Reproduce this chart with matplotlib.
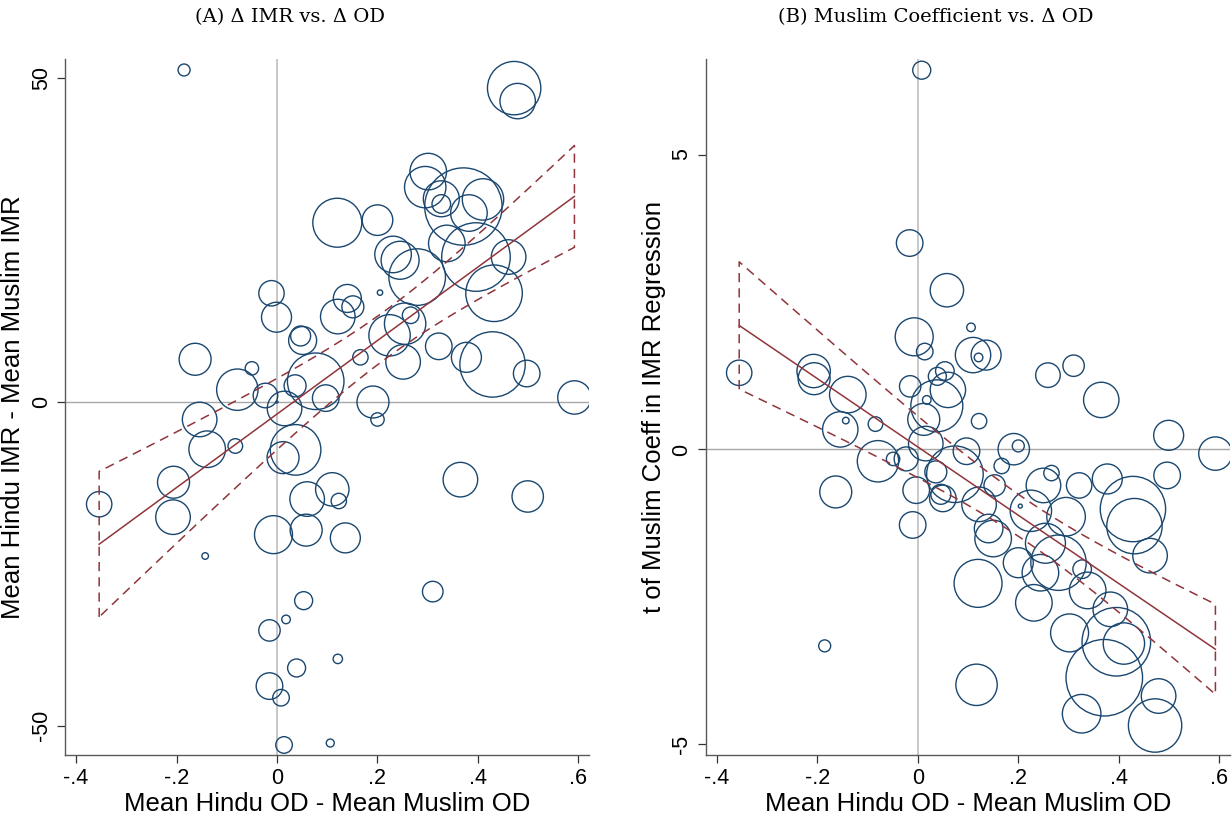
import numpy as np
import matplotlib
matplotlib.use("Agg")
import matplotlib.pyplot as plt

plt.rcParams['font.family'] = ['Liberation Sans', 'DejaVu Sans']
plt.rcParams['axes.unicode_minus'] = False

# panel A: x = mean Hindu OD - mean Muslim OD, y = mean Hindu IMR - mean Muslim IMR
# r = square root of the district weight (bubble size)
od_a = [-0.185, 0.472, 0.479, 0.301, 0.295, 0.327, 0.327, 0.371, 0.410, 0.382,
        0.120, 0.200, 0.338, 0.396, 0.231, 0.245, 0.279, 0.461, 0.432, -0.011,
        -0.001, 0.205, 0.140, 0.151, 0.121, 0.266, 0.255, 0.224, 0.251, 0.322,
        0.377, 0.429, 0.497, 0.592, 0.047, 0.051, -0.163, -0.050, -0.079, -0.023,
        0.036, 0.077, 0.097, 0.166, 0.191, 0.015, 0.000, 0.200, -0.154, -0.139,
        -0.083, 0.037, 0.012, -0.206, -0.354, -0.207, 0.110, 0.060, 0.123, 0.365,
        0.499, -0.007, 0.058, 0.136, -0.143, 0.310, 0.053, 0.018, -0.015, 0.121,
        0.039, -0.015, 0.008, 0.014, 0.106]
imr_a = [51.3, 48.5, 46.5, 35.6, 33.2, 31.4, 30.6, 30.2, 31.3, 29.2,
         27.7, 28.1, 24.5, 22.4, 22.8, 21.9, 19.3, 22.4, 16.8, 16.8,
         13.1, 16.9, 16.0, 14.7, 13.2, 13.4, 12.1, 10.3, 6.2, 8.6,
         6.9, 5.8, 4.4, 0.7, 10.2, 9.5, 6.6, 5.2, 1.9, 1.0,
         2.5, 3.2, 0.6, 6.9, 0.0, -1.0, 0.0, -2.7, -2.7, -7.3,
         -6.8, -7.4, -8.6, -12.4, -15.8, -17.8, -13.5, -15.0, -15.3, -12.0,
         -14.6, -20.5, -19.8, -21.0, -23.8, -29.3, -30.7, -33.6, -35.3, -39.7,
         -41.1, -43.9, -45.7, -53.0, -52.7]
r_a = [6, 26.7, 17.7, 18.3, 20.7, 18, 9.3, 38.7, 20.7, 18.3,
       24.5, 15.3, 18.3, 34.3, 18.3, 19, 28.3, 17.3, 28.3, 12.7,
       15, 2.7, 14, 11, 17.3, 8.3, 20.7, 20.7, 17.3, 13.3,
       15, 32.7, 13.3, 16.7, 10, 14, 16, 6.7, 20.7, 12.3,
       11, 28.3, 13.3, 7.7, 16, 17.3, 1, 6.7, 17.3, 18.3,
       7.3, 25.3, 16, 16, 12.7, 17.3, 16.7, 17.3, 7.7, 17.3,
       15.7, 19, 16, 15, 3.3, 10.3, 9, 4.3, 10.7, 4.7,
       9, 13.3, 8.3, 8.3, 4]

# panel B: y = t statistic of the Muslim coefficient in the IMR regression
od_b = [0.008, -0.016, 0.058, 0.106, -0.007, 0.014, 0.110, 0.136, 0.121, 0.310,
        0.259, 0.365, -0.355, -0.207, -0.206, -0.139, -0.015, 0.039, 0.054, 0.060,
        0.038, 0.018, 0.012, 0.122, -0.154, -0.143, -0.084, 0.016, -0.079, -0.049,
        -0.023, 0.097, 0.074, 0.036, 0.191, 0.200, 0.499, 0.592, 0.496, 0.167,
        0.266, 0.250, 0.321, 0.377, 0.428, 0.431, 0.462, -0.163, -0.003, 0.050,
        0.046, 0.122, 0.153, 0.204, 0.225, 0.295, -0.010, 0.141, 0.150, 0.254,
        0.280, 0.200, 0.244, 0.327, 0.120, 0.338, 0.231, 0.383, 0.302, 0.395,
        0.410, -0.185, 0.371, 0.479, 0.117, 0.326, 0.472]
t_b = [6.43, 3.50, 2.70, 2.07, 1.91, 1.66, 1.60, 1.60, 1.56, 1.42,
       1.26, 0.84, 1.30, 1.33, 1.20, 0.93, 1.07, 1.24, 1.33, 1.01,
       0.74, 0.84, 0.51, 0.48, 0.34, 0.49, 0.43, 0.10, -0.20, -0.16,
       -0.16, -0.03, -0.42, -0.38, 0.005, 0.06, 0.24, -0.07, -0.44, -0.28,
       -0.40, -0.61, -0.61, -0.50, -1.01, -1.30, -1.80, -0.72, -0.69, -0.83,
       -0.76, -0.93, -0.61, -0.96, -1.04, -1.14, -1.28, -1.34, -1.51, -1.59,
       -1.92, -1.92, -2.09, -2.03, -2.27, -2.39, -2.60, -2.71, -3.11, -3.26,
       -3.29, -3.33, -3.87, -4.18, -3.99, -4.48, -4.68]
r_b = [9, 13.3, 16.7, 4.3, 19, 8.3, 17.7, 15, 4.3, 10.7,
       12.3, 17.7, 12.7, 16.7, 16, 18.3, 10.7, 9, 9.3, 17.7,
       26, 4.3, 16, 7.7, 17.7, 3.3, 7.3, 17.3, 20.7, 6.7,
       12, 13.3, 28.3, 11, 15.7, 6, 15, 16.7, 13.3, 7.7,
       7.7, 17.3, 12.7, 15, 32.7, 27.7, 17.3, 16, 13.3, 13.3,
       10, 17.3, 10.7, 2, 20.7, 19.3, 13.3, 14.3, 18.3, 20,
       27.7, 15, 18.3, 9.3, 24, 18.3, 18.3, 17.3, 19, 34.3,
       20.7, 6, 38.3, 17.3, 20.7, 19.3, 26.7]

navy = '#1a476f'
maroon = '#90353b'


def lfitci(x, y, w):
    # weighted linear fit with 95% CI of the prediction (like Stata lfitci, aweights)
    x = np.asarray(x); y = np.asarray(y); w = np.asarray(w, float)
    w = w * len(w) / w.sum()
    X = np.column_stack([np.ones_like(x), x])
    XtWX = X.T @ (X * w[:, None])
    b = np.linalg.solve(XtWX, X.T @ (w * y))
    e = y - X @ b
    s2 = (w * e ** 2).sum() / (len(x) - 2)
    V = s2 * np.linalg.inv(XtWX)
    xs = np.linspace(x.min(), x.max(), 100)
    Xs = np.column_stack([np.ones_like(xs), xs])
    fit = Xs @ b
    se = np.sqrt(np.einsum('ij,jk,ik->i', Xs, V, Xs))
    return xs, fit, fit - 1.99 * se, fit + 1.99 * se


def panel(ax, x, y, r):
    r = np.asarray(r)
    ax.axvline(0, color='#c4c4c4', lw=1.3, zorder=0)
    ax.axhline(0, color='#a8a8a8', lw=1.0, zorder=0)
    ax.scatter(x, y, s=2.07 * r ** 2, facecolors='none', edgecolors=navy,
               linewidths=1.0, zorder=2)
    xs, fit, lo, hi = lfitci(x, y, r ** 2)
    ax.plot(xs, fit, color=maroon, lw=1.1, zorder=3)
    ax.plot(np.r_[xs[0], xs, xs[-1], xs[::-1]],
            np.r_[lo[0], hi, lo[-1], lo[::-1]],
            color=maroon, lw=1.1, ls=(0, (6, 4)), zorder=3)
    ax.set_xlim(-0.422, 0.621)
    ax.set_xticks([-0.4, -0.2, 0, 0.2, 0.4, 0.6])
    ax.set_xticklabels(['-.4', '-.2', '0', '.2', '.4', '.6'])
    for s in ['top', 'right']:
        ax.spines[s].set_visible(False)
    for s in ['left', 'bottom']:
        ax.spines[s].set_color('#5a5a5a')
        ax.spines[s].set_linewidth(1.0)
    ax.tick_params(labelsize=15.5, length=6, width=0.9, color='#333333')
    ax.set_xlabel('Mean Hindu OD - Mean Muslim OD', fontsize=18.5, labelpad=2)


fig = plt.figure(figsize=(12.32, 8.19), dpi=100)
axA = fig.add_axes([65 / 1232, 64 / 819, 524 / 1232, 696 / 819])
axB = fig.add_axes([705.5 / 1232, 64 / 819, 524.5 / 1232, 696 / 819])

panel(axA, od_a, imr_a, r_a)
axA.set_ylim(-54.55, 53.0)
axA.set_yticks([-50, 0, 50])
for lab in axA.get_yticklabels():
    lab.set_rotation(90)
    lab.set_va('center')
axA.set_ylabel('Mean Hindu IMR - Mean Muslim IMR', fontsize=18.5, labelpad=4)

panel(axB, od_b, t_b, r_b)
axB.set_ylim(-5.18, 6.62)
axB.set_yticks([-5, 0, 5])
for lab in axB.get_yticklabels():
    lab.set_rotation(90)
    lab.set_va('center')
axB.set_ylabel('t of Muslim Coeff in IMR Regression', fontsize=18.5, labelpad=4)

fig.text(290 / 1232, 1 - 17 / 819, '(A) \u0394 IMR vs. \u0394 OD', ha='center', va='center',
         fontsize=14, family='DejaVu Serif')
fig.text(936 / 1232, 1 - 17 / 819, '(B) Muslim Coefficient vs. \u0394 OD', ha='center',
         va='center', fontsize=14, family='DejaVu Serif')

fig.savefig('out.png', dpi=100)
